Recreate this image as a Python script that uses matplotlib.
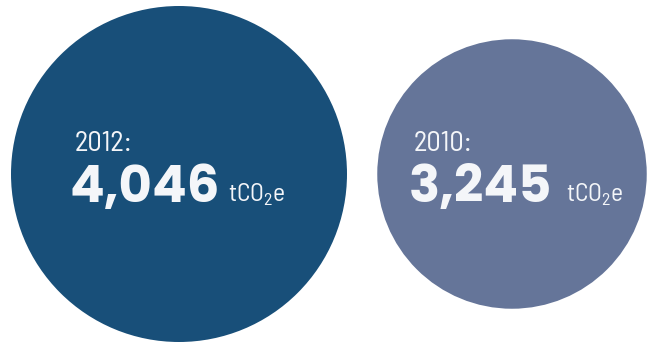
import matplotlib
matplotlib.use('Agg')
import matplotlib.pyplot as plt
from matplotlib.patches import Circle

# data
years = ['2012', '2010']
values = [4046, 3245]
unit = r'tCO$_\mathrm{2}$e'
colors = ['#184f79', '#657599']

# layout (pixels)
centers_x = [179, 512]
center_y = 174
px_per_unit = 168 / 4046  # radius scales with value
year_x = [75, 414]
num_x = [69, 409]
unit_x = [228, 566]

plt.rcParams['mathtext.fontset'] = 'custom'
plt.rcParams['mathtext.rm'] = 'Barlow Semi Condensed'

narrow = ['Barlow Semi Condensed', 'DejaVu Sans']
txt_col = '#f4f6f9'

fig = plt.figure(figsize=(6.56, 3.43), dpi=100)
ax = fig.add_axes([0, 0, 1, 1])
ax.set_xlim(0, 656)
ax.set_ylim(343, 0)
ax.set_aspect('equal')
ax.axis('off')

for i in range(len(values)):
    r = values[i] * px_per_unit
    ax.add_patch(Circle((centers_x[i], center_y), r, color=colors[i], lw=0))
    ax.text(year_x[i], 151, years[i] + ':', fontsize=20.5, family=narrow,
            color=txt_col, ha='left', va='baseline')
    ax.text(num_x[i], 202, f'{values[i]:,}', fontsize=37, family=['Poppins', 'DejaVu Sans'],
            fontweight='bold', color=txt_col, ha='left', va='baseline')
    ax.text(unit_x[i], 201, unit, fontsize=18.5, family=narrow,
            color=txt_col, ha='left', va='baseline')

fig.savefig('out.png', dpi=100)
